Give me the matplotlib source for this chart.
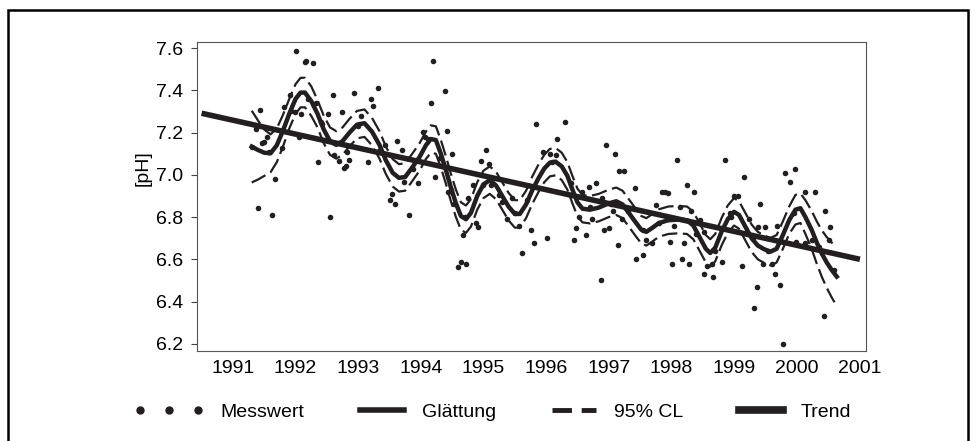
import matplotlib
matplotlib.use("Agg")
import numpy as np
import matplotlib.pyplot as plt
from matplotlib.lines import Line2D
from matplotlib.patches import Rectangle
from matplotlib.legend_handler import HandlerLine2D

plt.rcParams['font.family'] = ['Liberation Sans', 'DejaVu Sans']
plt.rcParams['font.size'] = 14

ink = '#231f20'

# Messwert (decimal year, pH)
mess_x = [1991.30, 1991.37, 1991.40, 1991.44, 1991.47, 1991.49, 1991.55, 1991.58, 1991.63, 1991.67,
          1991.79, 1991.82, 1991.91, 1991.93, 1991.99, 1992.01, 1992.06, 1992.09, 1992.15, 1992.17,
          1992.20, 1992.28, 1992.32, 1992.36, 1992.40, 1992.43, 1992.52, 1992.55, 1992.59, 1992.62,
          1992.69, 1992.74, 1992.77, 1992.80, 1992.82, 1992.86, 1992.93, 1993.00, 1993.05, 1993.16,
          1993.20, 1993.23, 1993.31, 1993.35, 1993.42, 1993.50, 1993.54, 1993.58, 1993.62, 1993.70,
          1993.73, 1993.81, 1993.88, 1993.96, 1994.03, 1994.07, 1994.12, 1994.16, 1994.19, 1994.23,
          1994.31, 1994.39, 1994.42, 1994.44, 1994.48, 1994.50, 1994.53, 1994.60, 1994.64, 1994.67,
          1994.70, 1994.72, 1994.76, 1994.83, 1994.88, 1994.92, 1994.96, 1995.00, 1995.04, 1995.09,
          1995.12, 1995.25, 1995.30, 1995.37, 1995.46, 1995.50, 1995.57, 1995.61, 1995.70, 1995.76,
          1995.80, 1995.84, 1995.95, 1996.02, 1996.07, 1996.10, 1996.15, 1996.18, 1996.30, 1996.40,
          1996.45, 1996.47, 1996.53, 1996.58, 1996.63, 1996.68, 1996.70, 1996.74, 1996.79, 1996.87,
          1996.90, 1996.92, 1996.95, 1997.00, 1997.03, 1997.06, 1997.10, 1997.14, 1997.16, 1997.21,
          1997.25, 1997.30, 1997.42, 1997.44, 1997.54, 1997.55, 1997.59, 1997.69, 1997.75, 1997.80,
          1997.85, 1997.90, 1997.95, 1997.98, 1998.01, 1998.04, 1998.09, 1998.13, 1998.17, 1998.20,
          1998.25, 1998.28, 1998.32, 1998.36, 1998.40, 1998.46, 1998.52, 1998.52, 1998.57, 1998.65,
          1998.67, 1998.70, 1998.81, 1998.86, 1998.94, 1998.95, 1999.00, 1999.06, 1999.12, 1999.16,
          1999.24, 1999.30, 1999.32, 1999.36, 1999.39, 1999.42, 1999.47, 1999.50, 1999.55, 1999.61,
          1999.66, 1999.68, 1999.74, 1999.78, 1999.82, 1999.90, 1999.95, 1999.97, 1999.99, 2000.13,
          2000.14, 2000.24, 2000.29, 2000.35, 2000.43, 2000.45, 2000.51, 2000.53, 2000.60]
mess_y = [7.130, 7.216, 6.842, 7.309, 7.150, 7.155, 7.178, 7.110, 6.810, 6.979,
          7.129, 7.323, 7.379, 7.303, 7.300, 7.589, 7.178, 7.289, 7.537, 7.541,
          7.360, 7.529, 7.339, 7.060, 7.250, 7.240, 7.287, 6.800, 7.379, 7.094,
          7.066, 7.300, 7.031, 7.040, 7.110, 7.070, 7.390, 7.230, 7.279, 7.060,
          7.360, 7.328, 7.410, 7.120, 7.142, 6.880, 6.910, 6.861, 7.161, 7.118,
          6.968, 6.810, 7.030, 6.962, 7.205, 7.181, 7.170, 7.339, 7.540, 6.992,
          7.079, 7.399, 7.209, 6.920, 6.928, 7.100, 6.860, 6.562, 6.589, 6.715,
          6.800, 6.578, 6.889, 6.952, 6.774, 6.752, 7.067, 6.950, 7.118, 7.050,
          6.952, 6.905, 6.870, 6.790, 6.889, 6.820, 6.758, 6.631, 6.880, 6.739,
          6.679, 7.240, 7.110, 6.700, 7.100, 7.060, 7.094, 7.169, 7.249, 6.960,
          6.691, 6.747, 6.802, 6.920, 6.715, 6.944, 6.850, 6.790, 6.963, 6.502,
          6.889, 6.739, 7.142, 6.747, 6.860, 6.830, 7.099, 6.668, 7.020, 6.790,
          7.020, 6.830, 6.936, 6.600, 6.620, 6.740, 6.691, 6.676, 6.857, 6.770,
          6.920, 6.920, 6.913, 6.681, 6.578, 6.758, 7.071, 6.849, 6.600, 6.679,
          6.952, 6.578, 6.830, 6.920, 6.720, 6.786, 6.731, 6.530, 6.570, 6.578,
          6.518, 6.640, 6.589, 7.071, 6.818, 6.800, 6.900, 6.900, 6.570, 6.989,
          6.790, 6.700, 6.371, 6.467, 6.752, 6.862, 6.578, 6.752, 6.640, 6.578,
          6.529, 6.758, 6.478, 6.198, 7.010, 6.968, 6.820, 7.028, 6.683, 6.679,
          6.920, 6.691, 6.920, 6.660, 6.333, 6.830, 6.691, 6.752, 6.550]

# Glaettung with 95% confidence limits
smooth_x = [1991.30, 1991.40, 1991.50, 1991.60, 1991.70, 1991.80, 1991.90, 1992.00, 1992.08, 1992.15,
            1992.25, 1992.35, 1992.45, 1992.55, 1992.65, 1992.75, 1992.86, 1992.98, 1993.10, 1993.22,
            1993.34, 1993.44, 1993.55, 1993.65, 1993.75, 1993.85, 1993.98, 1994.08, 1994.16, 1994.24,
            1994.32, 1994.40, 1994.48, 1994.56, 1994.64, 1994.72, 1994.80, 1994.90, 1995.00, 1995.10,
            1995.20, 1995.30, 1995.40, 1995.50, 1995.58, 1995.68, 1995.78, 1995.88, 1995.97, 1996.06,
            1996.15, 1996.25, 1996.34, 1996.42, 1996.50, 1996.58, 1996.70, 1996.84, 1997.00, 1997.12,
            1997.22, 1997.32, 1997.43, 1997.52, 1997.60, 1997.70, 1997.80, 1997.95, 1998.10, 1998.25,
            1998.35, 1998.45, 1998.55, 1998.62, 1998.70, 1998.80, 1998.90, 1999.00, 1999.08, 1999.18,
            1999.28, 1999.38, 1999.48, 1999.58, 1999.68, 1999.78, 1999.88, 1999.98, 2000.06, 2000.14,
            2000.24, 2000.32, 2000.40, 2000.48, 2000.56, 2000.64]
smooth_y = [7.134, 7.118, 7.105, 7.102, 7.140, 7.210, 7.290, 7.360, 7.390, 7.390,
            7.350, 7.290, 7.215, 7.160, 7.142, 7.160, 7.200, 7.238, 7.245, 7.205,
            7.142, 7.070, 7.010, 6.986, 6.990, 7.030, 7.085, 7.140, 7.170, 7.165,
            7.100, 7.023, 6.940, 6.865, 6.805, 6.790, 6.820, 6.900, 6.955, 6.975,
            6.950, 6.900, 6.850, 6.815, 6.815, 6.860, 6.928, 6.985, 7.030, 7.058,
            7.063, 7.040, 6.995, 6.930, 6.870, 6.840, 6.835, 6.845, 6.865, 6.875,
            6.860, 6.820, 6.775, 6.740, 6.730, 6.750, 6.772, 6.785, 6.788, 6.785,
            6.760, 6.705, 6.650, 6.630, 6.655, 6.730, 6.790, 6.825, 6.810, 6.755,
            6.700, 6.665, 6.648, 6.636, 6.650, 6.715, 6.785, 6.835, 6.842, 6.800,
            6.739, 6.680, 6.628, 6.585, 6.549, 6.518]
cl_upper = [7.304, 7.258, 7.215, 7.192, 7.220, 7.285, 7.360, 7.430, 7.460, 7.460,
            7.420, 7.355, 7.280, 7.225, 7.207, 7.225, 7.265, 7.303, 7.310, 7.270,
            7.207, 7.135, 7.075, 7.051, 7.055, 7.095, 7.150, 7.205, 7.235, 7.230,
            7.165, 7.088, 7.005, 6.930, 6.870, 6.855, 6.885, 6.965, 7.020, 7.040,
            7.015, 6.965, 6.915, 6.880, 6.880, 6.925, 6.993, 7.050, 7.095, 7.123,
            7.128, 7.105, 7.060, 6.995, 6.935, 6.905, 6.900, 6.910, 6.930, 6.940,
            6.925, 6.885, 6.840, 6.805, 6.795, 6.815, 6.837, 6.850, 6.853, 6.850,
            6.825, 6.770, 6.715, 6.695, 6.720, 6.795, 6.855, 6.890, 6.875, 6.820,
            6.765, 6.730, 6.713, 6.701, 6.715, 6.780, 6.850, 6.905, 6.912, 6.880,
            6.829, 6.780, 6.738, 6.705, 6.679, 6.658]
cl_lower = [6.964, 6.978, 6.995, 7.012, 7.060, 7.135, 7.220, 7.290, 7.320, 7.320,
            7.280, 7.225, 7.150, 7.095, 7.077, 7.095, 7.135, 7.173, 7.180, 7.140,
            7.077, 7.005, 6.945, 6.921, 6.925, 6.965, 7.020, 7.075, 7.105, 7.100,
            7.035, 6.958, 6.875, 6.800, 6.740, 6.725, 6.755, 6.835, 6.890, 6.910,
            6.885, 6.835, 6.785, 6.750, 6.750, 6.795, 6.863, 6.920, 6.965, 6.993,
            6.998, 6.975, 6.930, 6.865, 6.805, 6.775, 6.770, 6.780, 6.800, 6.810,
            6.795, 6.755, 6.710, 6.675, 6.665, 6.685, 6.707, 6.720, 6.723, 6.720,
            6.695, 6.640, 6.585, 6.565, 6.590, 6.665, 6.725, 6.760, 6.745, 6.690,
            6.635, 6.600, 6.583, 6.571, 6.585, 6.650, 6.720, 6.765, 6.772, 6.720,
            6.649, 6.580, 6.518, 6.465, 6.419, 6.378]

# linear trend
trend_x = [1990.50, 2001.01]
trend_y = [7.292, 6.600]

year_ticks = list(range(1991, 2002))
ph_ticks = [6.2, 6.4, 6.6, 6.8, 7.0, 7.2, 7.4, 7.6]


class DotsHandler(HandlerLine2D):
    # spread the three legend dots a bit wider and leave a gap before the text
    def get_xdata(self, legend, xdescent, ydescent, width, height, fontsize):
        xdata = np.linspace(-xdescent - 0.64 * fontsize, width - 0.54 * fontsize,
                            self.get_numpoints(legend))
        return xdata, xdata


fig = plt.figure(figsize=(9.77, 4.41), dpi=100)
ax = fig.add_axes([0.2016, 0.2048, 0.6848, 0.7006])

ax.plot(trend_x, trend_y, color=ink, lw=4.0, solid_capstyle='butt', zorder=2)
ax.plot(smooth_x, smooth_y, color=ink, lw=3.2, solid_joinstyle='round', zorder=3)
ax.plot(smooth_x, cl_upper, color=ink, lw=1.6, dashes=(7, 2.5), zorder=3)
ax.plot(smooth_x, cl_lower, color=ink, lw=1.6, dashes=(7, 2.5), zorder=3)
ax.scatter(mess_x, mess_y, s=16, color=ink, linewidths=0, zorder=4)

ax.set_xlim(1990.426, 2001.107)
ax.set_ylim(6.167, 7.631)
ax.set_xticks(year_ticks)
ax.set_xticklabels([str(y) for y in year_ticks])
ax.set_yticks(ph_ticks)
ax.set_yticklabels(['%.1f' % v for v in ph_ticks])
ax.tick_params(axis='x', length=0, pad=7)
ax.tick_params(axis='y', length=4, width=0.8, direction='out', pad=6, color='#444444')
for sp in ax.spines.values():
    sp.set_color('#555555')
    sp.set_linewidth(0.8)

ax.set_ylabel('[pH]')
ax.yaxis.set_label_coords(-0.068, 0.59)

handles = [
    Line2D([], [], ls='none', marker='o', ms=5, color=ink),
    Line2D([], [], color=ink, lw=4),
    Line2D([], [], color=ink, lw=3.5, dashes=(4, 2)),
    Line2D([], [], color=ink, lw=5.5),
]
labels = ['Messwert', 'Glättung', '95% CL', 'Trend']
fig.legend(handles, labels, loc='center', bbox_to_anchor=(0.514, 0.066), ncol=4,
           frameon=False, numpoints=3, handlelength=2.85, handletextpad=0.65,
           columnspacing=2.55, fontsize=14,
           handler_map={handles[0]: DotsHandler()})

# outer frame
fig.patches.append(Rectangle((0.0087, -0.05), 0.9818, 1.027, transform=fig.transFigure,
                             fill=False, lw=1.8, edgecolor='black'))

fig.savefig('out.png', dpi=100)
